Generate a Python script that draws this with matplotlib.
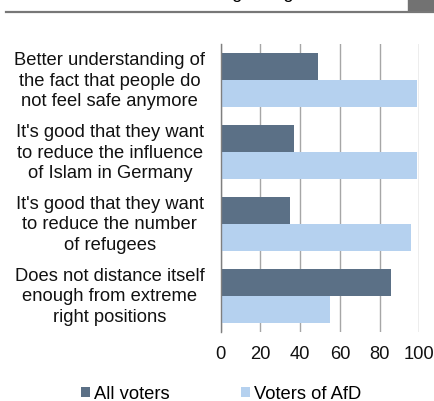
import matplotlib.pyplot as plt
import matplotlib.patches as mpatches
from matplotlib.lines import Line2D
import numpy as np

plt.rcParams['font.family'] = ['Liberation Sans', 'DejaVu Sans']

categories = ["Better understanding of\nthe fact that people do\nnot feel safe anymore",
              "It's good that they want\nto reduce the influence\nof Islam in Germany",
              "It's good that they want\nto reduce the number\nof refugees",
              "Does not distance itself\nenough from extreme\nright positions"]
all_voters = [49, 37, 35, 86]
afd_voters = [99, 99, 96, 55]
xticks = [0, 20, 40, 60, 80, 100]

dark = '#5b7086'
light = '#b5d1ef'
fs = 13.2

fig = plt.figure(figsize=(4.35, 4.02), dpi=100)
ax = fig.add_axes([220.7/435, 1-333/402, (419.3-220.7)/435, 288/402])

y = np.arange(len(categories))
h = 0.38
ax.barh(y - h/2, all_voters, height=h, color=dark, label='All voters', zorder=3)
ax.barh(y + h/2, afd_voters, height=h, color=light, label='Voters of AfD', zorder=3)

ax.set_xlim(0, 100)
ax.set_ylim(len(categories) - 0.5, -0.5)
ax.set_xticks(xticks)
ax.set_xticklabels([str(t) for t in xticks], fontsize=fs)
ax.tick_params(axis='x', length=0, pad=9.5, colors='#111111')
ax.tick_params(axis='y', length=0, labelleft=False)
ax.grid(axis='x', color='#a6a6a6', linewidth=1, zorder=0)
for s in ['top', 'right', 'bottom']:
    ax.spines[s].set_visible(False)
ax.spines['left'].set_color('#7f7f7f')
ax.spines['left'].set_linewidth(1)
ax.spines['left'].set_zorder(4)

# category labels centred in the left margin
trans = ax.get_yaxis_transform()
for yi, c in zip(y, categories):
    ax.text(-0.558, yi, c, transform=trans, ha='center', va='center',
            fontsize=fs, linespacing=1.27, color='#111111')

# header rule and tab
fig.add_artist(Line2D([6/435, 1], [1-12.8/402]*2, transform=fig.transFigure,
                      color='#777777', linewidth=1.6))
fig.add_artist(mpatches.Rectangle((408/435, 1-12/402), 27/435, 12/402,
                                  transform=fig.transFigure, color='#727272'))
fig.text(222/435, 1+2/402, 'agreeing', ha='left', va='baseline', fontsize=fs)

fig.legend(loc='center', bbox_to_anchor=(221/435, 1-395/402), ncol=2,
           frameon=False, fontsize=fs, handlelength=0.5, handleheight=0.5,
           handletextpad=0.2, columnspacing=3.9)

fig.savefig('out.png', dpi=100)
